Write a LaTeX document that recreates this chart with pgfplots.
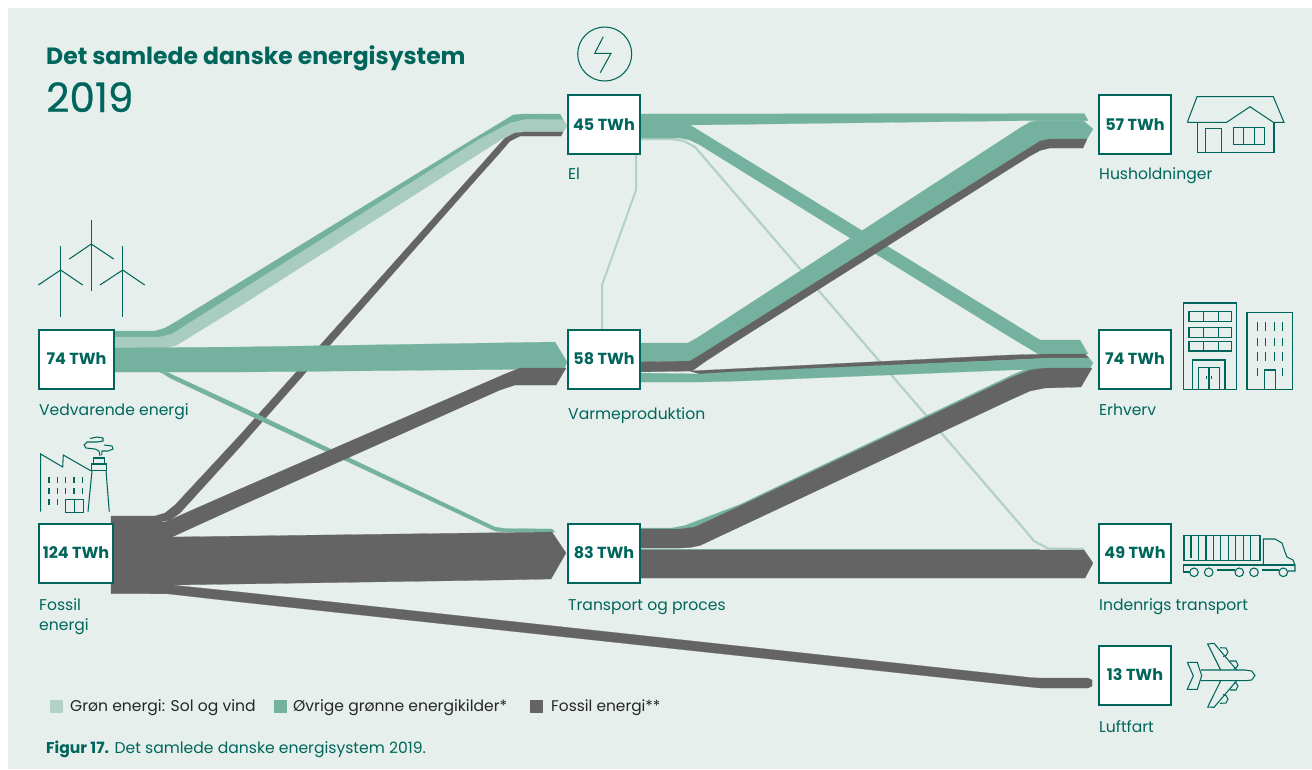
\documentclass[border=0pt]{standalone}
\usepackage{fontspec}
\setmainfont{Poppins}
\newfontfamily\pmed{Poppins}[FakeBold=0.5]
\usepackage{pgfplots}
\pgfplotsset{compat=1.18}
\definecolor{panel}{HTML}{E6EFEC}
\definecolor{lgreen}{HTML}{B3D2C7}
\definecolor{lband}{HTML}{A8CCBF}
\definecolor{mgreen}{HTML}{74B29F}
\definecolor{fgray}{HTML}{646464}
\definecolor{teal}{HTML}{00665C}
\newcommand{\flow}[2]{\addplot[fill=#1,draw=#1,line width=0.2pt,line join=round] coordinates {#2} -- cycle;}
\newcommand{\ic}[1]{\addplot[draw=teal,line width=1.05pt,line join=miter] coordinates {#1};}
\newcommand{\rct}[4]{\addplot[draw=teal,line width=1.05pt] coordinates {(#1,#2) (#3,#2) (#3,#4) (#1,#4)} -- cycle;}
\newcommand{\bx}[4]{\addplot[fill=white,draw=teal,line width=1.05pt] coordinates {(#1,#2) (#3,#2) (#3,#4) (#1,#4)} -- cycle;}
\newcommand{\lab}[3]{\node[anchor=base west,inner sep=0pt,text=teal,font=\fontsize{15.6}{18}\selectfont] at (axis cs:#1,#2) {#3};}
\newcommand{\twh}[3]{\node[anchor=base,inner sep=0pt,text=teal,font=\fontsize{16}{18}\selectfont\bfseries] at (axis cs:#1,#2) {#3};}
\begin{document}
\begin{tikzpicture}
\begin{axis}[scale only axis,width=1312pt,height=769pt,xmin=0,xmax=1312,ymin=0,ymax=769,y dir=reverse,hide axis,clip=false,at={(0,0)},anchor=north west]
\addplot[fill=white,draw=none] coordinates {(0,0) (1312,0) (1312,769) (0,769)} -- cycle;
\addplot[fill=panel,draw=none] coordinates {(8,8) (1312,8) (1312,769) (8,769)} -- cycle;
% light connecting lines
\addplot[draw=lgreen,line width=2pt] coordinates {(636,150) (636,190) (602,285) (602,334)};
\addplot[draw=lgreen,line width=2.2pt] coordinates {(640,139) (672,139) (684,141) (695,147) (1024,529) (1034,541) (1048,548.5) (1084,549)};
% El -> Erhverv
\flow{mgreen}{(636,125) (690,125) (1040,340) (1080,340) (1088,354) (1050,354) (1040,355) (1010,337) (700,145) (690,140) (680,138) (636,138)}
% El -> Husholdninger
\flow{mgreen}{(636,114) (1084,113.5) (1088,120.5) (1035,120.5) (690,125) (636,125)}
% Vedvarende -> El
\flow{mgreen}{(110,331) (155,331) (165,328) (173,323.5) (480,135) (500,123) (513,115) (522,114) (560,114) (566,125) (563,120) (525,119.5) (510,123) (480,139) (172,334) (160,337) (110,337)}
\flow{lband}{(110,337) (160,337) (172,334) (480,139) (510,123) (525,119.5) (563,119.5) (567,126) (563,132) (520,132) (505,137) (480,153) (240,306) (176,345.5) (165,348) (110,348)}
% Fossil -> El
\flow{fgray}{(111,516) (155,516) (165,513) (175,505) (240,435) (480,166) (495,149) (505,138) (515,133) (525,132) (563,132) (561,136) (520,136) (510,141) (498,155) (480,175) (240,447) (180,513) (170,520) (160,522) (111,522)}
% Vedvarende -> Transport
\flow{mgreen}{(160,372) (168,372.5) (172,374.5) (240,406) (495,527) (505,528.5) (552,529) (555,532) (505,532) (495,531) (240,411) (170,378) (163,373.5)}
% Vedvarende -> Varme
\flow{mgreen}{(110,348) (240,347) (555,342) (567,362) (564,369) (500,369.5) (240,372) (110,372)}
% Fossil -> Varme
\flow{fgray}{(165,522) (240,489) (505,374) (520,368) (566,368) (556,385) (515,385) (500,390) (240,506) (172,537)}
% Fossil block and -> Transport
\flow{fgray}{(111,522) (172,522) (172,537) (552,532) (566,553) (551,579) (500,580) (172,585) (172,593.5) (111,593.5)}
% Fossil -> Luftfart
\flow{fgray}{(150,585) (172,585) (240,592) (1030,677.5) (1040,678) (1088,678) (1092,680) (1092,686) (1088,688) (1040,688) (1030,687) (240,602) (165,593.5) (150,593.5)}
% Varme -> Erhverv
\flow{fgray}{(690,371) (740,368.5) (1010,355) (1050,354) (1085,354) (1089,358) (1050,358) (1010,360) (740,372) (700,374)}
\flow{mgreen}{(636,373) (700,374) (740,371.5) (1010,360) (1050,358) (1089,358) (1093,363) (1090,368) (1045,368) (1030,369.5) (1010,370) (740,381) (700,382) (636,382)}
% Varme -> Husholdninger
\flow{mgreen}{(636,343) (688,343) (697,338) (1020,128) (1030,122) (1040,120.5) (1083,120.5) (1093,129) (1087,139) (1050,139) (1040,141) (1030,147.5) (1010,160) (740,330) (700,355) (690,361) (636,362)}
\flow{fgray}{(636,362) (690,361) (700,355) (740,330) (1010,160) (1030,147.5) (1040,141) (1050,139) (1087,139) (1083,148) (1050,148) (1040,150.5) (1030,156) (1010,168.5) (740,339) (706,361) (692,371) (636,372)}
% Transport -> Erhverv
\flow{mgreen}{(636,528) (672,528) (685,525.5) (740,504.5) (1010,376) (1030,367.5) (1045,367.5) (1045,368) (1030,370) (1010,378) (740,506) (695,527) (680,529) (636,529)}
\flow{fgray}{(636,529) (680,529) (695,527) (740,506) (1010,378) (1030,370) (1045,368) (1092,368) (1081,387) (1045,388) (1030,391) (1010,400) (700,545.5) (690,547.5) (680,548) (636,548)}
% Transport -> Indenrigs
\addplot[draw=mgreen,line width=1pt] coordinates {(636,549.3) (1040,549.3)};
\flow{fgray}{(636,550) (1084,550) (1093,563) (1085,578) (636,578)}
% boxes
\bx{568}{95}{640}{154}
\bx{568}{330}{640}{389}
\bx{568}{524}{640}{583}
\bx{1099}{95}{1171}{154}
\bx{1099}{330}{1171}{389}
\bx{1099}{524}{1171}{583}
\bx{1099}{646}{1171}{705}
\bx{39}{330}{114}{389}
\bx{39}{524}{113}{583}
% wind
\ic{(91.3,220) (91.3,291)} \ic{(69.3,259) (91.3,244) (113.7,259)}
\ic{(60.7,246) (60.7,317)} \ic{(38.3,285) (60.7,270) (82.7,285)}
\ic{(122.7,246) (122.7,317)} \ic{(100,285) (122.7,270) (144.7,285)}
% factory
\ic{(40.7,511.7) (40.7,454) (62.7,467) (63.3,455) (90.7,470.7)}
\ic{(88,511.7) (92,470.7)} \ic{(109.3,511.7) (106,470.7)}
\rct{91.3}{464}{106.7}{470.7}
\rct{93.3}{458}{104.7}{464}
\ic{(100,456) (99,451) (95,449) (86,448) (84,445) (87,442) (97,442) (103,441) (103,438) (97,437) (90,438.5)}
\ic{(101.7,455) (102,451) (108,451) (113,449) (112,446) (104,445)}
\ic{(49,477.3) (49,483.3)} \ic{(57.3,477.3) (57.3,483.3)} \ic{(65.7,477.3) (65.7,483.3)} \ic{(74,477.3) (74,483.3)} \ic{(82.7,477.3) (82.7,483.3)}
\ic{(49,488.3) (49,494)} \ic{(57.3,488.3) (57.3,494)} \ic{(65.7,488.3) (65.7,494)} \ic{(74,488.3) (74,494)} \ic{(82.7,488.3) (82.7,494)}
\ic{(49,499) (49,505)} \ic{(57.3,499) (57.3,505)}
\rct{65.7}{499.3}{83.3}{512.3} \ic{(74.7,499.3) (74.7,512.3)}
% bolt
\draw[teal,line width=1.05pt] (axis cs:604.7,54) circle[radius=27pt];
\ic{(603.3,36.7) (594.7,53.3) (611,53.3) (600.3,72.7)}
% house
\ic{(1187.3,122.3) (1197,96.7) (1273.3,96.7) (1284,122.3) (1273.3,122.3) (1250,106.7) (1226.7,122.3) (1187.3,122.3)}
\ic{(1197.3,122.3) (1197.3,152.7) (1274,152.7) (1274,122.3)}
\ic{(1205.7,152.7) (1205.7,128.7) (1221.7,128.7) (1221.7,152.7)}
\rct{1233.3}{127.7}{1264.3}{144.3} \ic{(1243.7,127.7) (1243.7,144.3)} \ic{(1254.3,127.7) (1254.3,144.3)}
% buildings
\rct{1183.3}{303}{1236.7}{389.3}
\rct{1189}{311.7}{1231.7}{321.7} \rct{1189}{327.3}{1231.7}{337.3} \rct{1189}{341.7}{1231.7}{351}
\ic{(1203.3,311.7) (1203.3,321.7)} \ic{(1218.3,311.7) (1218.3,321.7)}
\ic{(1203.3,327.3) (1203.3,337.3)} \ic{(1218.3,327.3) (1218.3,337.3)}
\ic{(1203.3,341.7) (1203.3,351)} \ic{(1218.3,341.7) (1218.3,351)}
\ic{(1192.7,389.3) (1192.7,360) (1225,360) (1225,389.3)}
\ic{(1198.7,389.3) (1198.7,367.7) (1219.3,367.7) (1219.3,389.3)} \ic{(1209,367.7) (1209,389.3)}
\ic{(1206.7,376) (1206.7,379.3)} \ic{(1211.7,376) (1211.7,379.3)}
\rct{1247}{312.7}{1292.7}{389.3}
\ic{(1257.3,322.3) (1257.3,330.7)} \ic{(1265.7,322.3) (1265.7,330.7)} \ic{(1274.3,322.3) (1274.3,330.7)} \ic{(1282.7,322.3) (1282.7,330.7)}
\ic{(1257.3,337.7) (1257.3,346)} \ic{(1265.7,337.7) (1265.7,346)} \ic{(1274.3,337.7) (1274.3,346)} \ic{(1282.7,337.7) (1282.7,346)}
\ic{(1257.3,352.3) (1257.3,360.7)} \ic{(1265.7,352.3) (1265.7,360.7)} \ic{(1274.3,352.3) (1274.3,360.7)} \ic{(1282.7,352.3) (1282.7,360.7)}
\ic{(1257.3,367.7) (1257.3,376)} \ic{(1282.7,367.7) (1282.7,376)}
\ic{(1264.7,389.3) (1264.7,370) (1275.7,370) (1275.7,389.3)}
% truck
\rct{1184}{535.7}{1260}{560.7}
\ic{(1191,535.7) (1191,558)} \ic{(1198.7,535.7) (1198.7,560.7)} \ic{(1206,535.7) (1206,560.7)} \ic{(1213.3,535.7) (1213.3,560.7)} \ic{(1220.7,535.7) (1220.7,560.7)} \ic{(1228.3,535.7) (1228.3,560.7)} \ic{(1235.7,535.7) (1235.7,560.7)} \ic{(1243.3,535.7) (1243.3,560.7)} \ic{(1250.7,535.7) (1250.7,560.7)}
\ic{(1263.3,565) (1263.3,539) (1275,539) (1282,543) (1285,552) (1287,557) (1293,560) (1295,565) (1295,571) (1288,571)}
\ic{(1190,572) (1183.3,572) (1183.3,565) (1295,565)}
\ic{(1216.7,570) (1235,570)} \ic{(1262.3,570) (1279.3,570)}
\draw[teal,line width=1.05pt] (axis cs:1194,572.3) circle[radius=4.3pt];
\draw[teal,line width=1.05pt] (axis cs:1208.7,572.3) circle[radius=4.3pt];
\draw[teal,line width=1.05pt] (axis cs:1239.3,572.3) circle[radius=4.3pt];
\draw[teal,line width=1.05pt] (axis cs:1254,572.3) circle[radius=4.3pt];
\draw[teal,line width=1.05pt] (axis cs:1283.3,572.3) circle[radius=4.3pt];
% plane
\ic{(1187.3,662.3) (1197.3,662.3) (1201.7,675.7) (1197.3,689.3) (1187.3,689.3) (1193.3,675.7) (1187.3,662.3)}
\ic{(1201,670) (1245,670) (1251.7,671) (1255,675.5) (1251.7,680) (1245,680.7) (1201,680.7)}
\ic{(1220.7,670) (1207.7,644) (1214,643.3) (1236.7,670)}
\ic{(1220.7,680.7) (1207.7,707) (1214,707.3) (1236.7,680.7)}
\ic{(1220,647.7) (1226,648) (1228,652) (1226,655.5) (1223,656.5)}
\ic{(1230,661) (1236,661) (1238,665) (1236,668) (1234,668.5)}
\ic{(1220,703.3) (1226,703) (1228,699) (1226,695.5) (1223,694.5)}
\ic{(1230,690) (1236,690) (1238,686) (1236,683) (1234,682.5)}
% legend
\flow{lgreen}{(50,700) (62,700) (62,712) (50,712)}
\flow{mgreen}{(274,700) (286,700) (286,712) (274,712)}
\flow{fgray}{(530,700) (542,700) (542,712) (530,712)}
\node[anchor=base west,inner sep=0pt,text=black!85,font=\fontsize{15.6}{17}\selectfont] at (axis cs:70,711) {Grøn energi: Sol og vind};
\node[anchor=base west,inner sep=0pt,text=black!85,font=\fontsize{15.6}{17}\selectfont] at (axis cs:293,711) {Øvrige grønne energikilder*};
\node[anchor=base west,inner sep=0pt,text=black!85,font=\fontsize{15.4}{17}\selectfont] at (axis cs:551,711) {Fossil energi**};
\node[anchor=base west,inner sep=0pt,text=teal,font=\fontsize{15.6}{17}\selectfont] at (axis cs:46,753) {\textbf{Figur 17.} Det samlede danske energisystem 2019.};
% title
\node[anchor=base west,inner sep=0pt,text=teal,font=\fontsize{23.5}{26}\selectfont\bfseries] at (axis cs:46,64) {Det samlede danske energisystem};
\node[anchor=base west,inner sep=0pt,text=teal,font=\pmed\fontsize{40.5}{44}\selectfont] at (axis cs:46,112) {2019};
% values
\twh{604}{130}{45 TWh}
\twh{604}{364}{58 TWh}
\twh{604}{558}{83 TWh}
\twh{1135}{130}{57 TWh}
\twh{1135}{364}{74 TWh}
\twh{1135}{558}{49 TWh}
\twh{1135}{680}{13 TWh}
\twh{76.5}{364}{74 TWh}
\twh{76}{558}{124 TWh}
% labels
\lab{568}{179}{El}
\lab{1099}{179}{Husholdninger}
\lab{39}{415}{Vedvarende energi}
\lab{568}{419}{Varmeproduktion}
\lab{1099}{415}{Erhverv}
\lab{39}{610}{Fossil}
\lab{39}{630}{energi}
\lab{568}{610}{Transport og proces}
\lab{1099}{610}{Indenrigs transport}
\lab{1099}{732}{Luftfart}
\end{axis}
\end{tikzpicture}
\end{document}
